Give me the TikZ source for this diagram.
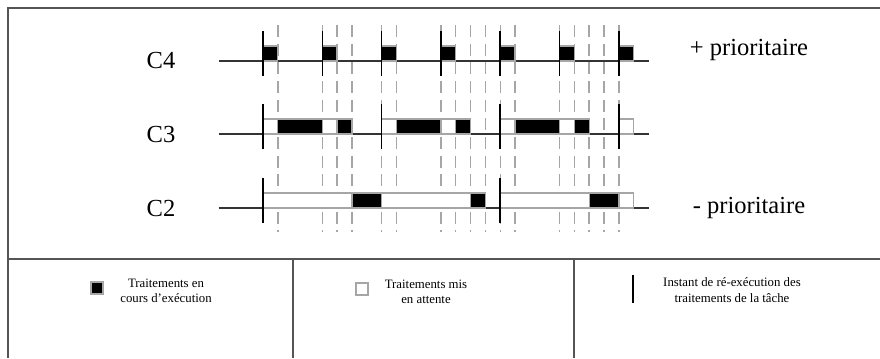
\documentclass[tikz,border=0pt]{standalone}
\usepackage{fontspec}
\setmainfont{Liberation Serif}
\usetikzlibrary{positioning}

\definecolor{framegray}{HTML}{555555}
\definecolor{lightline}{HTML}{A6A6A6}

\tikzset{
  frameline/.style={draw=framegray, line width=1.2pt},
  axisline/.style={draw=black!80, line width=1.1pt},
  tickline/.style={draw=black, line width=1.2pt},
  eventline/.style={draw=lightline, line width=1.1pt, dash pattern=on 9pt off 5pt},
  runbox/.style={fill=black, draw=lightline, line width=1pt},
  waitbox/.style={fill=white, draw=lightline, line width=1pt},
  tasklabel/.style={font=\fontsize{18.4}{22}\selectfont, inner sep=0pt},
  keytext/.style={font=\fontsize{9.6}{11.5}\selectfont, align=center, inner sep=0pt},
}

\begin{document}
\begin{tikzpicture}[line cap=butt, x=0.75pt, y=-0.75pt]
  \useasboundingbox (0,0) rectangle (880,358);
  % cadre
  \draw[frameline] (8,358) -- (8,8) -- (880,8);
  \draw[frameline] (8,259) -- (880,259);
  \draw[frameline] (293,259) -- (293,358);
  \draw[frameline] (574,259) -- (574,358);

  % noms des taches
  \node[tasklabel] (c4) at (161,60) {C4};
  \node[tasklabel] (c3) at (161,134) {C3};
  \node[tasklabel] (c2) at (161,208) {C2};
  \node[tasklabel] (plusprio) at (749,50) {+ prioritaire};
  \node[tasklabel] (minusprio) at (749,208) {- prioritaire};

  % chronogramme, une unite = 14.83px
  \begin{scope}[xshift=197.25pt, x=11.12pt]
    \draw[eventline] (1,25) -- (1,232) (4,25) -- (4,232) (5,25) -- (5,232)
      (6,25) -- (6,232) (8,25) -- (8,232) (9,25) -- (9,232)
      (12,25) -- (12,232) (13,25) -- (13,232) (14,25) -- (14,232)
      (15,25) -- (15,232) (16,25) -- (16,232) (17,25) -- (17,232)
      (20,25) -- (20,232) (21,25) -- (21,232) (22,25) -- (22,232)
      (23,25) -- (23,232) (24,25) -- (24,232);

    % C4
    \draw[axisline] (-3,61) -- (26,61);
    \draw[runbox] (0,46) rectangle (1,61);
    \draw[runbox] (4,46) rectangle (5,61);
    \draw[runbox] (8,46) rectangle (9,61);
    \draw[runbox] (12,46) rectangle (13,61);
    \draw[runbox] (16,46) rectangle (17,61);
    \draw[runbox] (20,46) rectangle (21,61);
    \draw[runbox] (24,46) rectangle (25,61);
    \draw[tickline] (0,31) -- (0,76) (4,31) -- (4,76) (8,31) -- (8,76)
      (12,31) -- (12,76) (16,31) -- (16,76) (20,31) -- (20,76) (24,31) -- (24,76);

    % C3
    \draw[axisline] (-3,134) -- (26,134);
    \draw[waitbox] (0,119) rectangle (1,134);
    \draw[runbox] (1,119) rectangle (4,134);
    \draw[waitbox] (4,119) rectangle (5,134);
    \draw[runbox] (5,119) rectangle (6,134);
    \draw[waitbox] (8,119) rectangle (9,134);
    \draw[runbox] (9,119) rectangle (12,134);
    \draw[waitbox] (12,119) rectangle (13,134);
    \draw[runbox] (13,119) rectangle (14,134);
    \draw[waitbox] (16,119) rectangle (17,134);
    \draw[runbox] (17,119) rectangle (20,134);
    \draw[waitbox] (20,119) rectangle (21,134);
    \draw[runbox] (21,119) rectangle (22,134);
    \draw[waitbox] (24,119) rectangle (25,134);
    \draw[tickline] (0,104) -- (0,149) (8,104) -- (8,149)
      (16,104) -- (16,149) (24,104) -- (24,149);

    % C2
    \draw[axisline] (-3,208) -- (26,208);
    \draw[waitbox] (0,193) rectangle (6,208);
    \draw[runbox] (6,193) rectangle (8,208);
    \draw[waitbox] (8,193) rectangle (14,208);
    \draw[runbox] (14,193) rectangle (15,208);
    \draw[waitbox] (16,193) rectangle (22,208);
    \draw[runbox] (22,193) rectangle (24,208);
    \draw[waitbox] (24,193) rectangle (25,208);
    \draw[tickline] (0,178) -- (0,223) (16,178) -- (16,223);
  \end{scope}

  % legende
  \node[runbox, minimum size=9pt, inner sep=0pt] (runkey) at (97,288) {};
  \node[keytext] (runtext) at (166,291) {Traitements en\\cours d’exécution};
  \node[waitbox, minimum size=9pt, inner sep=0pt] (waitkey) at (362,289) {};
  \node[keytext] (waittext) at (426,292) {Traitements mis\\en attente};
  \draw[tickline] (633,275) -- (633,303);
  \node[keytext] (ticktext) at (732,290) {Instant de ré-exécution des\\traitements de la tâche};
\end{tikzpicture}
\end{document}
